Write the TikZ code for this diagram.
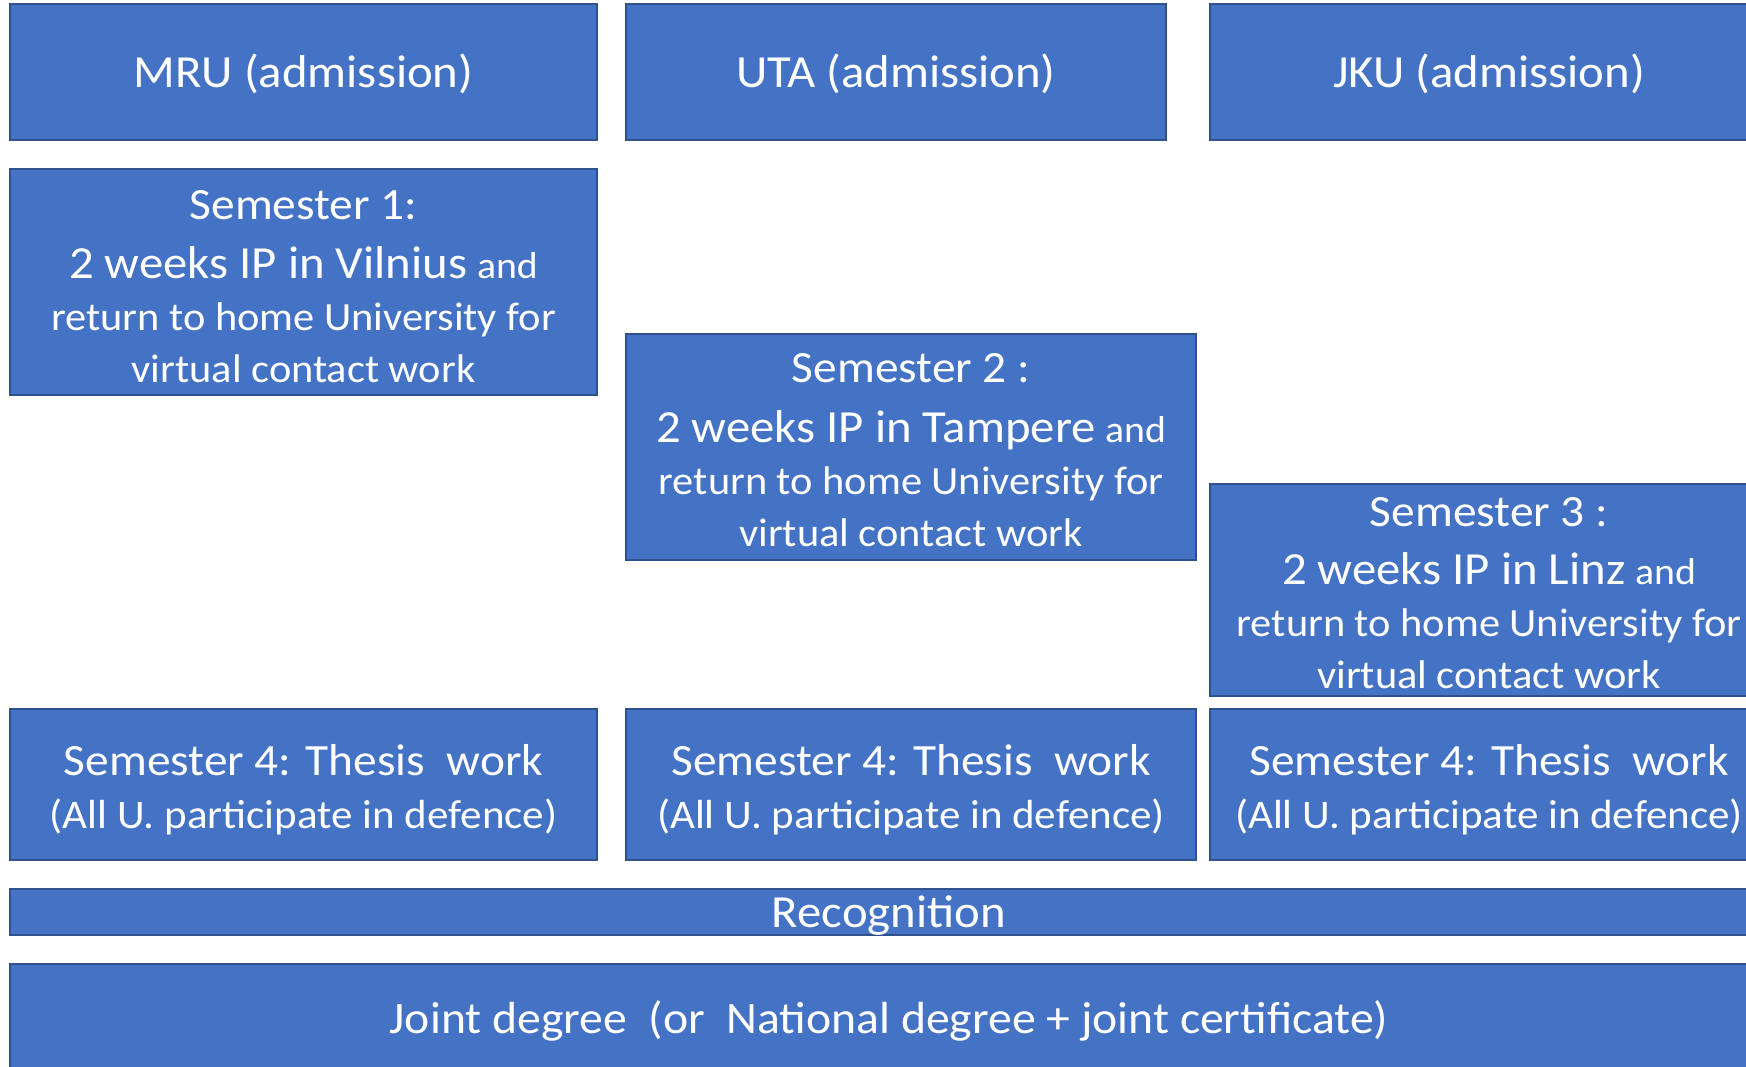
\documentclass[tikz,border=0pt]{standalone}
\usepackage{fontspec}
\setmainfont{Carlito}[FakeStretch=1.06]
\definecolor{boxfill}{HTML}{4472C4}
\definecolor{boxline}{HTML}{2F528F}
\newcommand{\hdtxt}{\fontsize{46}{55}\selectfont}
\newcommand{\semtxt}{\fontsize{44.7}{52}\selectfont}
\newcommand{\bigtxt}{\fontsize{46}{52}\selectfont}
\newcommand{\midtxt}{\fontsize{40}{52}\selectfont}
\newcommand{\smalltxt}{\fontsize{37.5}{52}\selectfont}
\newcommand{\thtxt}{\fontsize{44.7}{53}\selectfont}
\newcommand{\thsmall}{\fontsize{40.6}{53}\selectfont}
\tikzset{
  box/.style={draw=boxline, fill=boxfill, line width=2pt, inner sep=0pt, outer sep=0pt, rectangle},
  txt/.style={text=white, inner sep=0pt, align=center, anchor=base},
}
\begin{document}
\begin{tikzpicture}[x=1pt,y=-1pt]
\useasboundingbox (0,0) rectangle (1746,1067);
\clip (0,0) rectangle (1746,1067);
% header row
\node[box, minimum width=587pt, minimum height=135.5pt] (mru) at (303.5,72.25) {};
\node[box, minimum width=540pt, minimum height=135.5pt] (uta) at (896,72.25) {};
\node[box, minimum width=558pt, minimum height=135.5pt] (jku) at (1489,72.25) {};
\node[txt, font=\hdtxt] (mrut) at (303.5,88) {MRU (admission)};
\node[txt, font=\hdtxt] (utat) at (896,88) {UTA (admission)};
\node[txt, font=\hdtxt] (jkut) at (1489,88) {JKU (admission)};
% semesters
\node[box, minimum width=587pt, minimum height=226pt] (sem1) at (303.5,282) {};
\node[box, minimum width=570pt, minimum height=226pt] (sem2) at (911,447) {};
\node[box, minimum width=558pt, minimum height=212pt] (sem3) at (1489,590) {};
\node[txt, font=\midtxt] (sem1t) at (303.5,382) {{\semtxt Semester 1:}\\[7pt]{\bigtxt 2 weeks IP in Vilnius} {\smalltxt and}\\return to home University for\\virtual contact work};
\node[txt, font=\midtxt] (sem2t) at (911,546) {{\semtxt Semester 2 :}\\[8pt]{\bigtxt 2 weeks IP in Tampere} {\smalltxt and}\\return to home University for\\virtual contact work};
\node[txt, font=\midtxt] (sem3t) at (1489,688) {{\semtxt Semester 3 :}\\[6pt]{\bigtxt 2 weeks IP in Linz} {\smalltxt and}\\return to home University for\\virtual contact work};
% thesis row
\node[box, minimum width=587pt, minimum height=151pt] (th1) at (303.5,784.5) {};
\node[box, minimum width=570pt, minimum height=151pt] (th2) at (911,784.5) {};
\node[box, minimum width=558pt, minimum height=151pt] (th3) at (1489,784.5) {};
\node[txt, font=\thtxt] (th1t) at (303.5,828) {Semester 4: Thesis~~work\\{\thsmall (All U. participate in defence)}};
\node[txt, font=\thtxt] (th2t) at (911,828) {Semester 4: Thesis~~work\\{\thsmall (All U. participate in defence)}};
\node[txt, font=\thtxt] (th3t) at (1489,828) {Semester 4: Thesis~~work\\{\thsmall (All U. participate in defence)}};
% recognition and degree
\node[box, minimum width=1758pt, minimum height=46pt] (rec) at (889,912) {};
\node[txt, font=\fontsize{46}{55}\selectfont] (rect) at (889,927) {Recognition};
\node[box, minimum width=1758pt, minimum height=111pt] (joint) at (889,1019.5) {};
\node[txt, font=\fontsize{45}{54}\selectfont] (jointt) at (889,1033) {Joint degree~~(or~~National degree + joint certificate)};
\end{tikzpicture}
\end{document}
